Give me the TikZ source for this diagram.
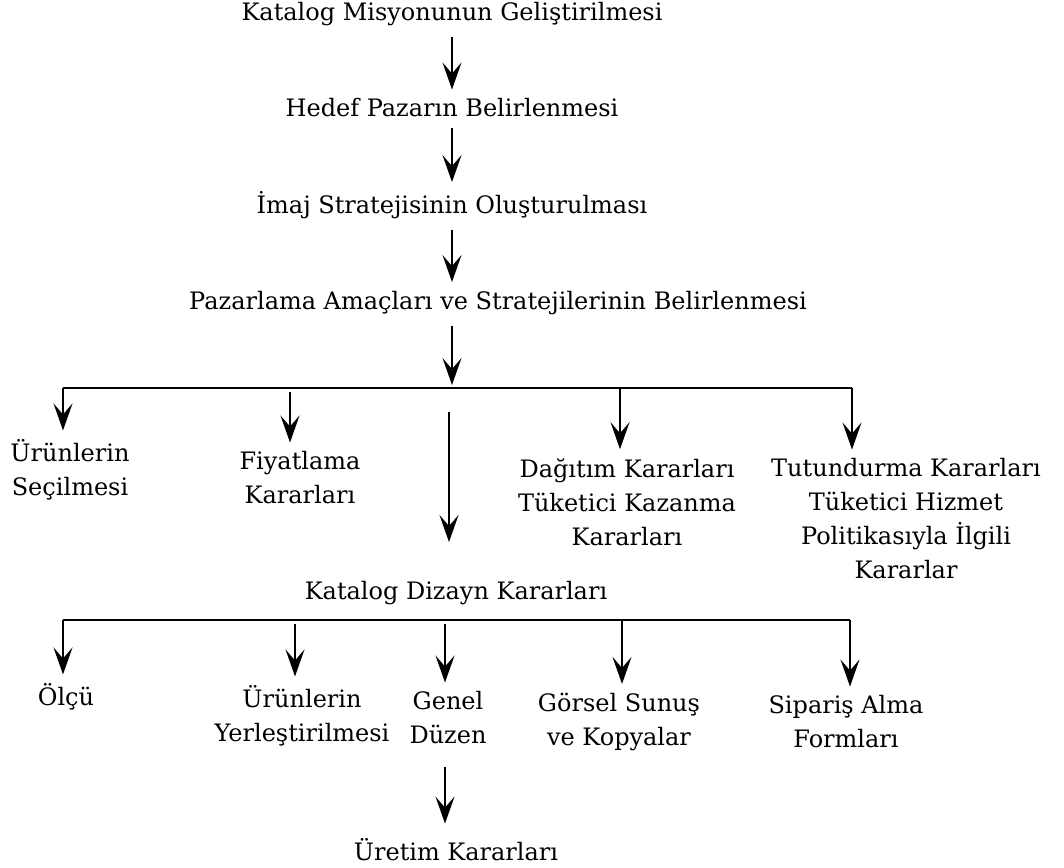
\documentclass[tikz,border=0pt]{standalone}
\usepackage{fontspec}
\setmainfont{DejaVu Serif}
\usetikzlibrary{arrows.meta, positioning}

\begin{document}
\begin{tikzpicture}[
    x=1pt, y=-1pt,
    >={Stealth[length=27pt, width=19pt, inset=11pt]},
    every node/.style={font=\fontsize{24}{34}\selectfont, align=center, inner sep=3pt},
    line/.style={->, line width=1.8pt, shorten <=8pt, shorten >=6pt},
    bus/.style={line width=2.6pt}
]
\useasboundingbox (0,0) rectangle (1064,867);

% Nodes
\node (mission) at (452,14) {Katalog Misyonunun Geliştirilmesi};
\node (target) at (452,108) {Hedef Pazarın Belirlenmesi};
\node (image) at (452,205) {İmaj Stratejisinin Oluşturulması};
\node (goals) at (498,303) {Pazarlama Amaçları ve Stratejilerinin Belirlenmesi};

\node (selection) at (70,470) {Ürünlerin\\Seçilmesi};
\node (pricing) at (300,478) {Fiyatlama\\Kararları};
\node (distribution) at (627,502) {Dağıtım Kararları\\Tüketici Kazanma\\Kararları};
\node (retention) at (906,519) {Tutundurma Kararları\\Tüketici Hizmet\\Politikasıyla İlgili\\Kararlar};

\node (design) at (456,593) {Katalog Dizayn Kararları};

\node (size) at (66,697) {Ölçü};
\node (placement) at (302,716) {Ürünlerin\\Yerleştirilmesi};
\node (layout) at (448,718) {Genel\\Düzen};
\node (visual) at (619,722) {Görsel Sunuş\\ve Kopyalar};
\node (ordering) at (846,722) {Sipariş Alma\\Formları};

\node (production) at (456,850) {Üretim Kararları};

% Bus lines
\coordinate (busA) at (452,388);
\coordinate (busAleft) at (63,388);
\coordinate (busAright) at (852,388);
\coordinate (midstart) at (449,412);
\coordinate (busB) at (448,620);
\coordinate (busBleft) at (63,620);
\coordinate (busBright) at (850,620);

% Arrows
\draw[line] (mission) -- (target);
\draw[line] (target) -- (image);
\draw[line] (image) -- (image |- goals.north);
\draw[line, shorten >=3pt] (image |- goals.south) -- (busA);

\draw[bus] (busAleft) -- (busAright);
\draw[line, shorten <=0pt] (busAleft) -- (busAleft |- selection.north);
\draw[line, shorten <=4pt] (busA -| 290,0) -- (290,0 |- pricing.north);
\draw[line, shorten <=0pt] (busA -| 620,0) -- (620,0 |- distribution.north);
\draw[line, shorten <=0pt] (busAright) -- (busAright |- retention.north);
\draw[line, shorten <=0pt, shorten >=36pt] (midstart) -- (midstart |- design.north);

\draw[bus] (busBleft) -- (busBright);
\draw[line, shorten <=0pt] (busBleft) -- (busBleft |- size.north);
\draw[line, shorten <=4pt] (busB -| 295,0) -- (295,0 |- placement.north);
\draw[line, shorten <=4pt] (busB -| 445,0) -- (445,0 |- layout.north);
\draw[line, shorten <=0pt] (busB -| 622,0) -- (622,0 |- visual.north);
\draw[line, shorten <=0pt] (busBright) -- (busBright |- ordering.north);

\draw[line, shorten <=20pt, shorten >=12pt] (layout.south -| 445,0) -- (445,0 |- production.north);

\end{tikzpicture}
\end{document}
